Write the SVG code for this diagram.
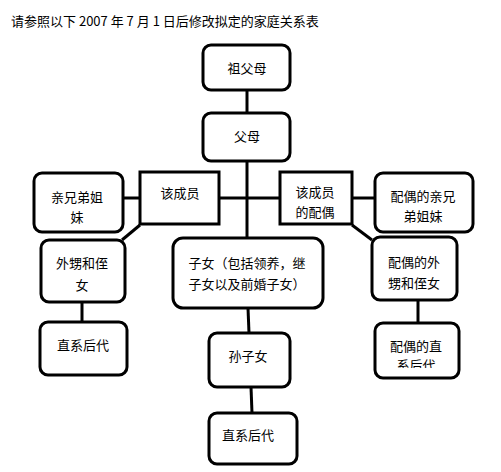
<svg xmlns="http://www.w3.org/2000/svg" width="501" height="472" viewBox="0 0 501 472">
<defs>
<style>
.b{fill:#fff;stroke:#000;stroke-width:3}
.c{stroke:#000;stroke-width:3;fill:none}
text{font-family:"Noto Sans CJK SC","Noto Sans",sans-serif;font-size:13px;fill:#000;text-anchor:middle}
.t{text-anchor:start}
</style>
<clipPath id="clipR"><rect x="375" y="354" width="84" height="14"/></clipPath>
</defs>
<rect width="501" height="472" fill="#fff"/>
<text class="t" x="11" y="26">请参照以下 2007 年 7 月 1 日后修改拟定的家庭关系表</text>
<g id="connectors">
<line class="c" x1="247" y1="90" x2="247" y2="113"/>
<line class="c" x1="247" y1="161" x2="247" y2="238"/>
<line class="c" x1="123" y1="198" x2="140" y2="198"/>
<line class="c" x1="219" y1="198" x2="280" y2="198"/>
<line class="c" x1="352" y1="198" x2="375" y2="198"/>
<line class="c" x1="140" y1="225" x2="122" y2="240"/>
<line class="c" x1="352" y1="225" x2="372" y2="240"/>
<line class="c" x1="82" y1="302" x2="82" y2="322"/>
<line class="c" x1="248" y1="308" x2="249" y2="333"/>
<line class="c" x1="418" y1="300" x2="418" y2="323"/>
<line class="c" x1="251" y1="387" x2="252" y2="413"/>
</g>
<g id="n-grandparents"><rect class="b" x="203" y="45" width="87" height="45" rx="8"/><text x="247" y="73">祖父母</text></g>
<g id="n-parents"><rect class="b" x="203" y="113" width="87" height="48" rx="8"/><text x="247" y="141">父母</text></g>
<g id="n-siblings"><rect class="b" x="34" y="173" width="89" height="59" rx="8"/><text x="77" y="202">亲兄弟姐</text><text x="77" y="222">妹</text></g>
<g id="n-member"><rect class="b" x="140" y="172" width="79" height="52"/><text x="180" y="198">该成员</text></g>
<g id="n-spouse"><rect class="b" x="280" y="172" width="72" height="52"/><text x="315" y="197">该成员</text><text x="315" y="217">的配偶</text></g>
<g id="n-spouse-siblings"><rect class="b" x="375" y="173" width="98" height="59" rx="8"/><text x="423" y="201">配偶的亲兄</text><text x="423" y="221">弟姐妹</text></g>
<g id="n-nephews"><rect class="b" x="41" y="240" width="84" height="62" rx="8"/><text x="82" y="268">外甥和侄</text><text x="82" y="290">女</text></g>
<g id="n-children"><rect class="b" x="173" y="238" width="150" height="70" rx="10"/><text x="247" y="268">子女（包括领养，继</text><text x="247" y="289">子女以及前婚子女）</text></g>
<g id="n-spouse-nephews"><rect class="b" x="372" y="237" width="85" height="63" rx="8"/><text x="414" y="267">配偶的外</text><text x="414" y="288">甥和侄女</text></g>
<g id="n-desc-left"><rect class="b" x="40" y="322" width="87" height="53" rx="8"/><text x="83" y="350">直系后代</text></g>
<g id="n-grandchildren"><rect class="b" x="209" y="333" width="81" height="54" rx="8"/><text x="248" y="361">孙子女</text></g>
<g id="n-desc-bottom"><rect class="b" x="209" y="413" width="88" height="51" rx="8"/><text x="248" y="440">直系后代</text></g>
<g id="n-spouse-desc"><rect class="b" x="375" y="323" width="84" height="55" rx="8"/><text x="416" y="351">配偶的直</text><text x="416" y="370" clip-path="url(#clipR)">系后代</text></g>
</svg>
